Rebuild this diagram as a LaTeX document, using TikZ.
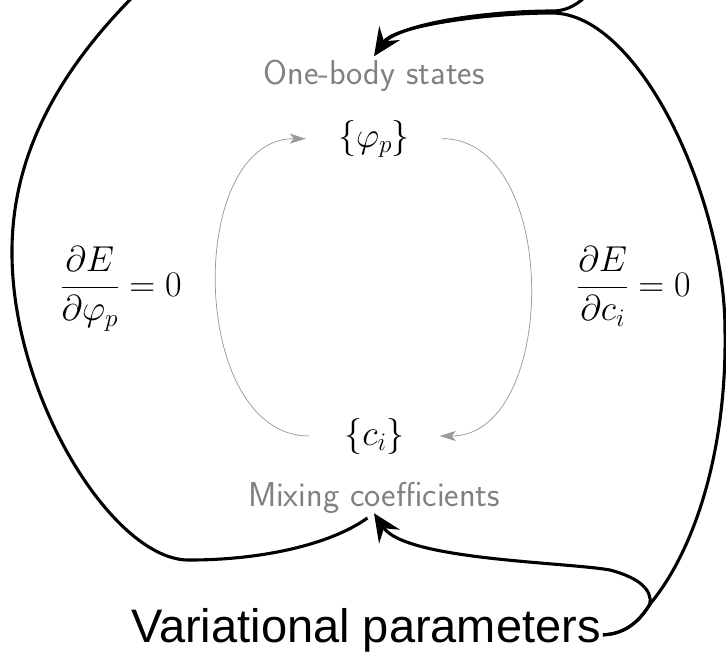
\RequirePackage{fix-cm}
\documentclass[tikz,border=0pt]{standalone}
\usepackage{fontspec}
\newfontfamily\varfont{Liberation Sans}
\usetikzlibrary{arrows.meta}
\definecolor{lbl}{HTML}{808080}
\definecolor{arc}{HTML}{9A9A9A}
\begin{document}
\begin{tikzpicture}[x=1pt,y=-1pt,
  bigline/.style={line width=3.1pt, draw=black},
  bigtip/.style={-{Stealth[length=28pt,width=25pt,inset=10pt]}},
  grayarc/.style={draw=arc, line width=0.75pt, -{Stealth[length=16pt,width=10pt,inset=4pt,fill=arc]}},
  graylabel/.style={font=\fontsize{34.5}{40}\selectfont\sffamily, text=lbl},
  mathnode/.style={font=\fontsize{36}{42}\selectfont},
]
\useasboundingbox (0,0) rectangle (726,665);
\clip (0,0) rectangle (726,665);

% nodes
\node[graylabel, anchor=base, inner sep=3pt] (onebody) at (374,84) {One-body states};
\node[mathnode, anchor=base, inner ysep=0pt, inner xsep=32pt] (phi) at (374,147) {$\{\varphi_p\}$};
\node[mathnode, anchor=base, inner ysep=0pt, inner xsep=35pt] (ci) at (374.5,445) {$\{c_i\}$};
\node[graylabel, anchor=base, inner sep=0pt] (mixing) at (374,506) {Mixing coefficients};
\node[mathnode, anchor=base] (dphi) at (121,296) {$\displaystyle\frac{\partial E}{\partial\varphi_p}=0$};
\node[mathnode, anchor=base] (dci) at (634,296) {$\displaystyle\frac{\partial E}{\partial c_i}=0$};
\node[font=\fontsize{47}{56}\selectfont\varfont, anchor=base, inner sep=2pt] (var) at (366,642) {Variational parameters};

% helper coordinates
\coordinate (J1) at (650,604);
\coordinate (J2) at (552,13);
\coordinate (R) at (725,330);
\coordinate (T1) at (605,-25);
\coordinate (T2) at (148,-18);
\coordinate (L1) at (12,255);
\coordinate (L2) at (190,560);
\coordinate (H) at (610,570);

% gray cycle
\draw[grayarc] (ci.west) .. controls +(-121,0) and +(-121,0) .. (phi.west);
\draw[grayarc] (phi.east) .. controls +(119,0) and +(119,0) .. (ci.east);

% big black connectors
\draw[bigline, bigtip] ([yshift=-5pt]var.east) .. controls (627,634) and (641,619) .. (J1)
   .. controls (695,550) and (727,450) .. (R)
   .. controls (725,200) and (640,13) .. (J2)
   .. controls (490,13) and (395,25) .. (onebody.north);
\draw[bigline, shorten >=12pt] (T1) .. controls (585,0) and (572,11) .. (552,11)
   .. controls (490,11) and (395,23) .. (onebody.north);
\draw[bigline, bigtip] ([yshift=-5pt]var.east) .. controls (627,634) and (641,619) .. (J1)
   .. controls (652,590) and (640,578) .. (H)
   .. controls (565,562) and (405,560) .. (mixing.south);
\draw[bigline, shorten >=8pt] (T2) .. controls (50,75) and (11,165) .. (L1)
   .. controls (13,400) and (115,562) .. (L2)
   .. controls (260,560) and (330,545) .. (mixing.south);
\end{tikzpicture}
\end{document}
